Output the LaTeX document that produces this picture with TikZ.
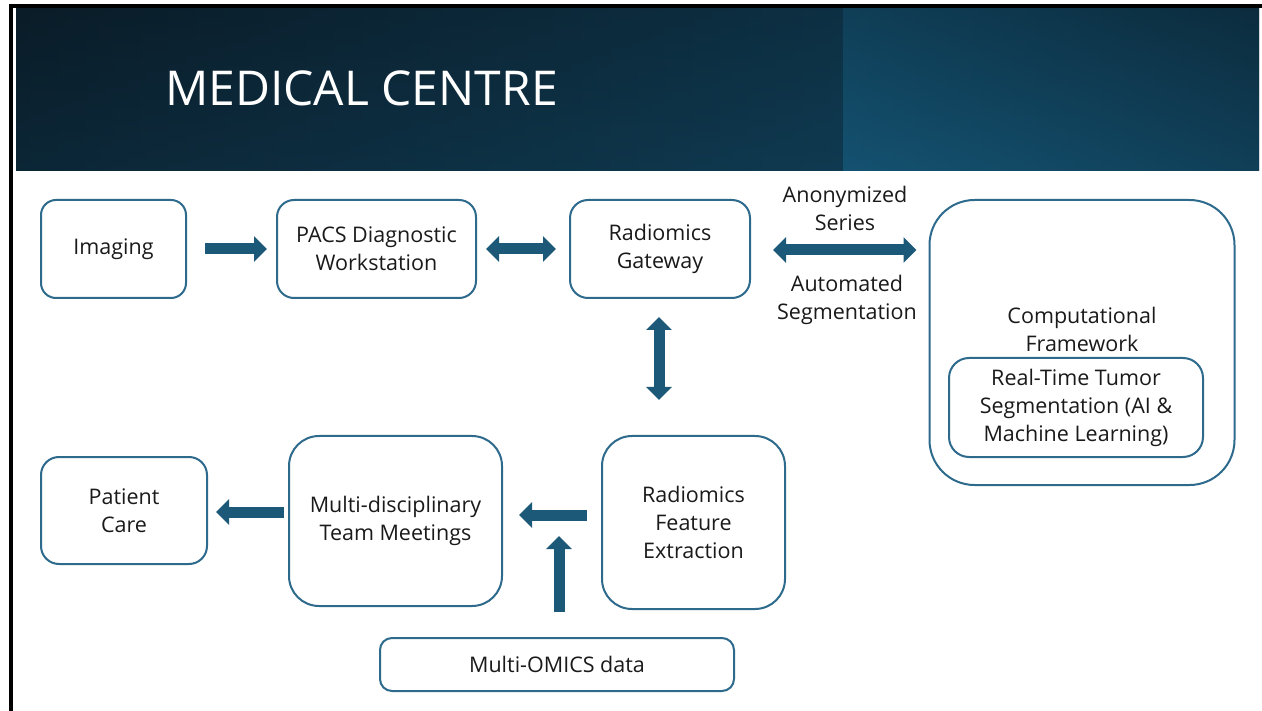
\documentclass[tikz,border=0pt]{standalone}
\usepackage{fontspec}
\setmainfont{Open Sans}
\usetikzlibrary{arrows.meta,calc}

\definecolor{boxline}{HTML}{2E6A8C}
\definecolor{arrowfill}{HTML}{1C5878}
\definecolor{txt}{HTML}{1A1A1A}
\definecolor{bannerdark}{HTML}{0A1C28}
\definecolor{bannermid}{HTML}{0F3A51}
\definecolor{panellight}{HTML}{145271}
\definecolor{paneldark}{HTML}{0C2C3E}

\begin{document}
\begin{tikzpicture}[x=1pt,y=-1pt,
  box/.style={draw=boxline, line width=2pt, fill=white, align=center,
    text=txt, font=\fontsize{21.5}{28}\selectfont, inner sep=0pt},
  blockarrow/.style={line width=11pt, draw=arrowfill,
    -{Triangle[length=13pt,width=25pt]}},
  dblockarrow/.style={line width=11pt, draw=arrowfill,
    {Triangle[length=13pt,width=25pt]}-{Triangle[length=13pt,width=25pt]}},
  flowlabel/.style={align=center, text=txt, font=\fontsize{21.5}{28}\selectfont, inner sep=0pt}]

\useasboundingbox (0,0) rectangle (1262,711);
\fill[white] (0,0) rectangle (1262,711);

% page frame
\fill[black] (9,4) rectangle (1262,8);
\fill[black] (9,4) rectangle (12.7,711);

% title banner: dark left part, lighter panel on the right
\shade[left color=bannerdark, right color=bannermid] (16,9) rectangle (844,171);
\shade[top color=bannerdark, bottom color=bannermid, opacity=0.35] (16,9) rectangle (844,171);
\shade[left color=panellight, right color=paneldark] (843,9) rectangle (1259,171);
\shade[top color=paneldark, bottom color=panellight, opacity=0.5] (843,9) rectangle (1259,171);
\node[text=white, font=\fontsize{48}{50}\selectfont, anchor=base west, inner sep=0pt]
  (title) at (165,106) {MEDICAL CENTRE};

% process boxes
\node[box, rounded corners=15pt, minimum width=145pt, minimum height=98pt]
  (imaging) at (113.5,249) {Imaging};
\node[box, rounded corners=17pt, minimum width=199pt, minimum height=98pt]
  (pacs) at (376.5,249) {PACS Diagnostic\\Workstation};
\node[box, rounded corners=18pt, minimum width=180pt, minimum height=98pt]
  (gateway) at (660,249) {Radiomics\\Gateway};
\node[box, rounded corners=45pt, minimum width=305pt, minimum height=285pt]
  (compfw) at (1082,342.5) {};
\node[flowlabel] (compfwlabel) at (1082,329) {Computational\\Framework};
\node[box, rounded corners=20pt, minimum width=254pt, minimum height=99pt]
  (rtts) at (1076,407.5) {Real-Time Tumor\\Segmentation (AI \&\\Machine Learning)};
\node[box, rounded corners=18pt, minimum width=166pt, minimum height=107pt]
  (patient) at (124,510.5) {Patient\\Care};
\node[box, rounded corners=30pt, minimum width=213pt, minimum height=170pt]
  (mdt) at (395.5,521) {Multi-disciplinary\\Team Meetings};
\node[box, rounded corners=30pt, minimum width=183pt, minimum height=173pt]
  (feature) at (693.5,522.5) {Radiomics\\Feature\\Extraction};
\node[box, rounded corners=12pt, minimum width=354pt, minimum height=53pt]
  (omics) at (557,664.5) {Multi-OMICS data};

% link labels
\node[flowlabel] (anonlabel) at (845,208) {Anonymized\\Series};
\node[flowlabel] (seglabel) at (847,300) {Automated\\Segmentation};

% block arrows
\draw[blockarrow] ($(imaging.east)+(18,0)$) -- ($(pacs.west)+(-9,0)$);
\draw[dblockarrow] ($(pacs.east)+(9,0)$) -- ($(gateway.west)+(-13,0)$);
\draw[dblockarrow] ($(gateway.east)+(22,1)$) -- ($(compfw.west)+(-12,-92.5)$);
\draw[dblockarrow] ($(gateway.south)+(-1,18)$) -- ($(feature.north)+(-34.5,-35)$);
\draw[blockarrow] ($(feature.west)+(-14,-7.5)$) -- ($(mdt.east)+(16,-6)$);
\coordinate (omicstip) at ($(omics.north)+(2,-101)$);
\draw[blockarrow] ($(omics.north)+(2,-25)$) -- (omicstip);
\draw[blockarrow] ($(mdt.west)+(-4,-9)$) -- ($(patient.east)+(8,1.5)$);
\end{tikzpicture}
\end{document}
